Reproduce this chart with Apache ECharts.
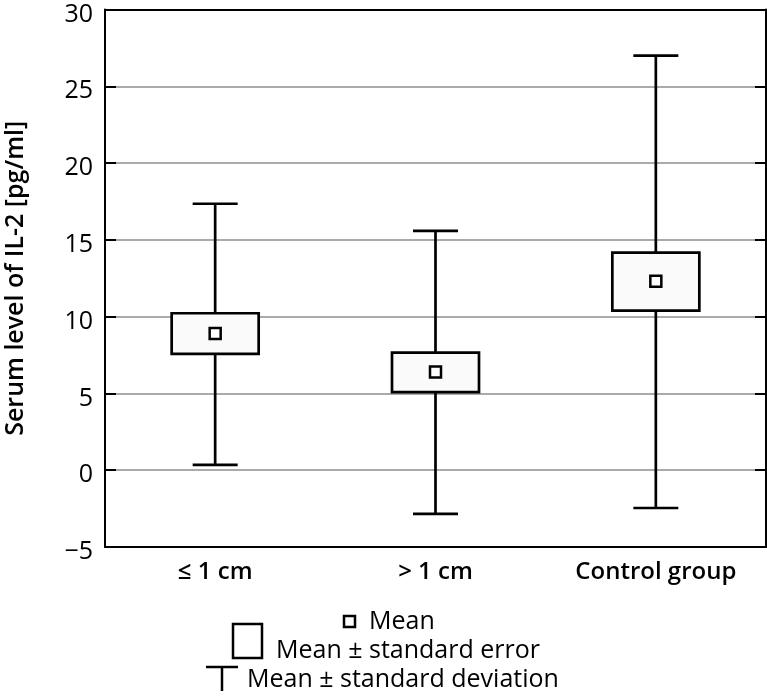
<!DOCTYPE html>
<html><head><meta charset="utf-8">
<script src="https://cdn.jsdelivr.net/npm/echarts@6/dist/echarts.min.js"></script>
<style>html,body{margin:0;padding:0;background:#fff}#c{width:767px;height:696px}</style>
</head><body><div id="c"></div>
<script>
const categories = ['\u2264 1 cm', '> 1 cm', 'Control group'];
const meanValues = [8.9, 6.4, 12.3];
const seLower = [7.57, 5.08, 10.39];
const seUpper = [10.22, 7.66, 14.17];
const sdLower = [0.35, -2.84, -2.46];
const sdUpper = [17.35, 15.58, 27.0];
const yTicks = { min: -5, max: 30, interval: 5 };

const data = categories.map((c, i) => [i, meanValues[i], seLower[i], seUpper[i], sdLower[i], sdUpper[i]]);
const FONT = '"Open Sans", "Noto Sans", sans-serif';

const chart = echarts.init(document.getElementById('c'), null, { renderer: 'canvas' });
chart.setOption({
  animation: false,
  backgroundColor: '#fff',
  grid: { left: 105, right: 1, top: 9.5, bottom: 149, containLabel: false, outerBoundsMode: 'none' },
  xAxis: [{
    type: 'category', data: categories, position: 'bottom',
    axisLine: { onZero: false, lineStyle: { color: '#000', width: 2 } },
    axisTick: { inside: true, alignWithLabel: true, length: 9, lineStyle: { color: '#000', width: 2 } },
    axisLabel: { color: '#000', fontFamily: FONT, fontSize: 24, fontWeight: 600, margin: 13 }
  }, {
    type: 'category', data: categories, position: 'top',
    axisLine: { onZero: false, lineStyle: { color: '#000', width: 2 } },
    axisTick: { inside: true, alignWithLabel: true, length: 9, lineStyle: { color: '#000', width: 2 } },
    axisLabel: { show: false }
  }],
  yAxis: [{
    type: 'value', min: yTicks.min, max: yTicks.max, interval: yTicks.interval,
    name: 'Serum level of IL-2 [pg/ml]', nameLocation: 'middle', nameGap: 77, nameRotate: 90,
    nameTextStyle: { color: '#000', fontFamily: FONT, fontSize: 25, fontWeight: 600 },
    axisLine: { show: true, lineStyle: { color: '#000', width: 2 } },
    axisTick: { show: true, inside: true, length: 11, lineStyle: { color: '#000', width: 2 } },
    axisLabel: { color: '#000', fontFamily: FONT, fontSize: 25, fontWeight: 400, margin: 12,
      formatter: v => '{t|' + String(v).replace('-', '\u2212') + '}',
      rich: { t: { fontFamily: FONT, fontSize: 25, color: '#000', padding: [10, 0, 0, 0] } } },
    splitLine: { show: true, lineStyle: { color: '#aaaaaa', width: 2 } }
  }, {
    type: 'value', min: yTicks.min, max: yTicks.max, interval: yTicks.interval, position: 'right',
    axisLine: { show: true, lineStyle: { color: '#000', width: 2 } },
    axisTick: { show: true, inside: true, length: 11, lineStyle: { color: '#000', width: 2 } },
    axisLabel: { show: false }, splitLine: { show: false }
  }],
  series: [{
    type: 'custom',
    data: data,
    z: 10,
    renderItem: function (params, api) {
      const i = api.value(0);
      const pMean = api.coord([i, api.value(1)]);
      const pSeL = api.coord([i, api.value(2)]);
      const pSeU = api.coord([i, api.value(3)]);
      const pSdL = api.coord([i, api.value(4)]);
      const pSdU = api.coord([i, api.value(5)]);
      const x = pMean[0];
      const boxW = 87, capW = 45, m = 11;
      const ls = { stroke: '#000', lineWidth: 2.7 };
      return {
        type: 'group',
        children: [
          { type: 'line', shape: { x1: x, y1: pSdU[1], x2: x, y2: pSdL[1] }, style: ls },
          { type: 'line', shape: { x1: x - capW / 2, y1: pSdU[1], x2: x + capW / 2, y2: pSdU[1] }, style: ls },
          { type: 'line', shape: { x1: x - capW / 2, y1: pSdL[1], x2: x + capW / 2, y2: pSdL[1] }, style: ls },
          { type: 'rect', shape: { x: x - boxW / 2, y: pSeU[1], width: boxW, height: pSeL[1] - pSeU[1] },
            style: { fill: '#fafafa', stroke: '#000', lineWidth: 2.7 } },
          { type: 'rect', shape: { x: x - m / 2, y: pMean[1] - m / 2, width: m, height: m },
            style: { fill: '#fff', stroke: '#000', lineWidth: 2.5 } }
        ]
      };
    }
  }],
  graphic: [
    { type: 'rect', shape: { x: 344, y: 616, width: 11, height: 11 }, style: { fill: '#fff', stroke: '#000', lineWidth: 2.5 } },
    { type: 'text', x: 369, y: 622, style: { text: 'Mean', fill: '#000', font: '400 25px ' + FONT, textVerticalAlign: 'middle' } },
    { type: 'rect', shape: { x: 233, y: 624, width: 29, height: 34 }, style: { fill: '#fff', stroke: '#000', lineWidth: 2.5 } },
    { type: 'text', x: 276, y: 651, style: { text: 'Mean \u00b1 standard error', fill: '#000', font: '400 25px ' + FONT, textVerticalAlign: 'middle' } },
    { type: 'line', shape: { x1: 206, y1: 667, x2: 238, y2: 667 }, style: { stroke: '#000', lineWidth: 2.5 } },
    { type: 'line', shape: { x1: 222, y1: 667, x2: 222, y2: 691 }, style: { stroke: '#000', lineWidth: 2.5 } },
    { type: 'text', x: 247, y: 680, style: { text: 'Mean \u00b1 standard deviation', fill: '#000', font: '400 25px ' + FONT, textVerticalAlign: 'middle' } }
  ]
});
</script></body></html>
